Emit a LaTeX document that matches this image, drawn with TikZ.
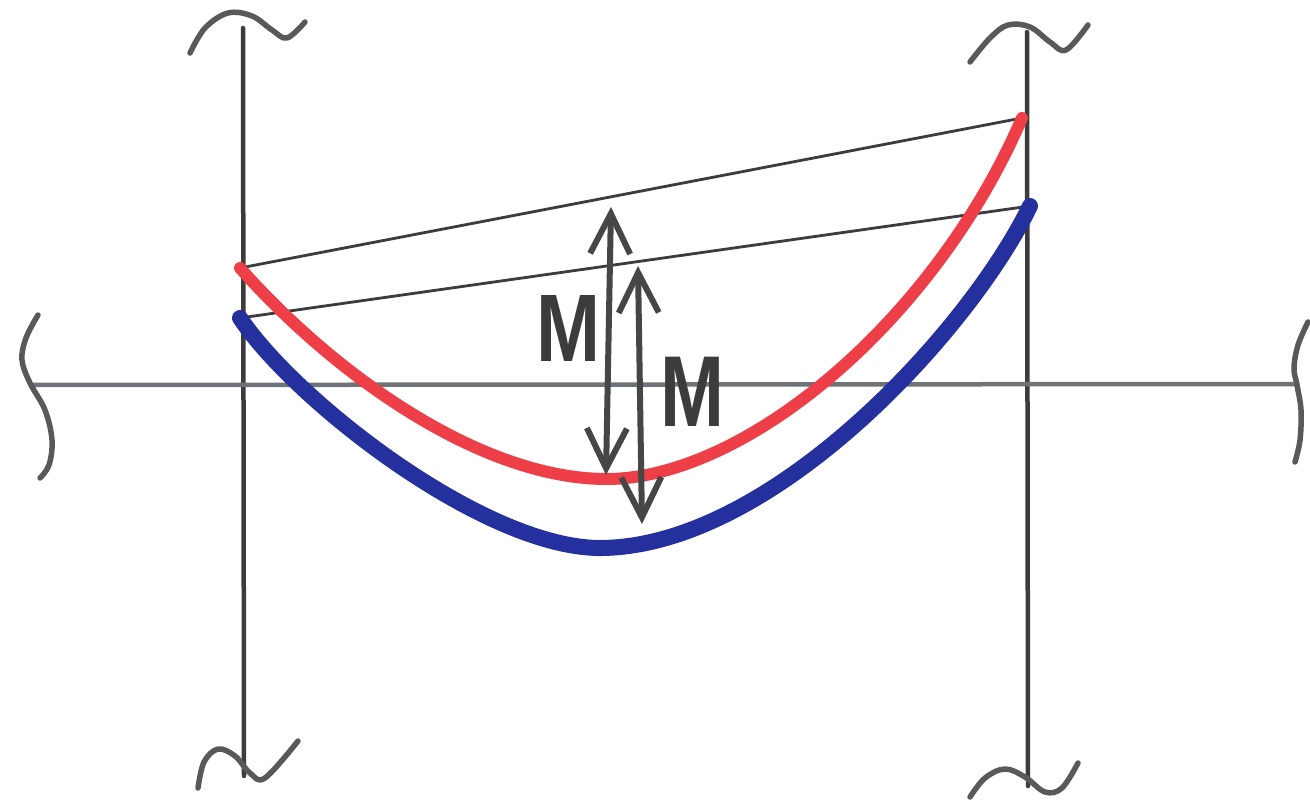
\documentclass[tikz,border=0pt]{standalone}
\usepackage{fontspec}
\setsansfont{Liberation Sans}
\usetikzlibrary{arrows.meta}
\definecolor{pen}{RGB}{60,60,60}
\definecolor{axisgray}{RGB}{110,115,120}
\definecolor{redc}{RGB}{238,62,72}
\definecolor{bluec}{RGB}{36,48,158}
\tikzset{
  frame/.style={draw=pen, line width=4.5pt, line cap=round},
  squig/.style={draw=pen!85, line width=5.5pt, line cap=round, line join=round},
  secant/.style={draw=pen, line width=2.8pt},
  dimarrow/.style={draw=pen!95, line width=6pt, {Straight Barb[length=40pt,width=40pt,line width=6pt]}-{Straight Barb[length=40pt,width=40pt,line width=6pt]}},
  mlabel/.style={text=pen, font=\sffamily\bfseries\fontsize{96}{96}\selectfont, inner sep=0pt}
}
\begin{document}
\begin{tikzpicture}[x=1pt,y=-1pt]
\useasboundingbox (0,0) rectangle (1310,805);
\fill[white] (0,0) rectangle (1310,805);
% frame lines
\draw[frame] (243,28) -- (244,776);
\draw[frame] (1027,32) -- (1028,786);
\draw[frame, draw=axisgray] (33,385) -- (1297,384);
% squiggles
\draw[squig] plot[smooth, tension=0.6] coordinates {(190,53) (205,28) (228,13) (252,16) (272,30) (287,38) (305,22)};
\draw[squig] plot[smooth, tension=0.6] coordinates {(970,62) (990,38) (1008,25) (1030,27) (1050,42) (1066,50) (1088,25)};
\draw[squig] plot[smooth, tension=0.6] coordinates {(198,788) (204,762) (218,749) (235,756) (250,773) (265,778) (298,741)};
\draw[squig] plot[smooth, tension=0.6] coordinates {(970,797) (985,778) (1005,769) (1025,777) (1045,792) (1062,788) (1078,763)};
\draw[squig] plot[smooth, tension=0.6] coordinates {(38,315) (26,338) (22,360) (30,383) (45,410) (52,440) (49,465) (40,478)};
\draw[squig] plot[smooth, tension=0.6] coordinates {(1308,322) (1298,345) (1294,368) (1297,385) (1301,410) (1300,440) (1295,462)};
% named points
\coordinate (rA) at (240,268);
\coordinate (rM) at (605,479);
\coordinate (rB) at (1022,118);
\coordinate (bA) at (240,318);
\coordinate (bM) at (597,548);
\coordinate (bB) at (1030,206);
% secants
\draw[secant] (rA) -- (rB);
\draw[secant] (bA) -- (bB);
% curves
\draw[draw=bluec, line width=16pt, line cap=round, line join=round] (bA) .. controls (295,400) and (480,545) .. (bM) .. controls (770,550) and (970,330) .. (bB);
\draw[draw=redc, line width=12pt, line cap=round, line join=round] (rA) .. controls (335,375) and (480,478) .. (rM) .. controls (745,480) and (935,320) .. (rB);
% dimension arrows
\coordinate (a1t) at (611,207);
\coordinate (a1b) at (606,475);
\coordinate (a2t) at (638,266);
\coordinate (a2b) at (642,524);
\draw[dimarrow] (a1b) -- (a1t);
\draw[dimarrow] (a2b) -- (a2t);
% labels
\node[mlabel] (m1) at (568,328) {\scalebox{0.8}[1]{M}};
\node[mlabel] (m2) at (692,392) {\scalebox{0.8}[1.05]{M}};
\end{tikzpicture}
\end{document}
